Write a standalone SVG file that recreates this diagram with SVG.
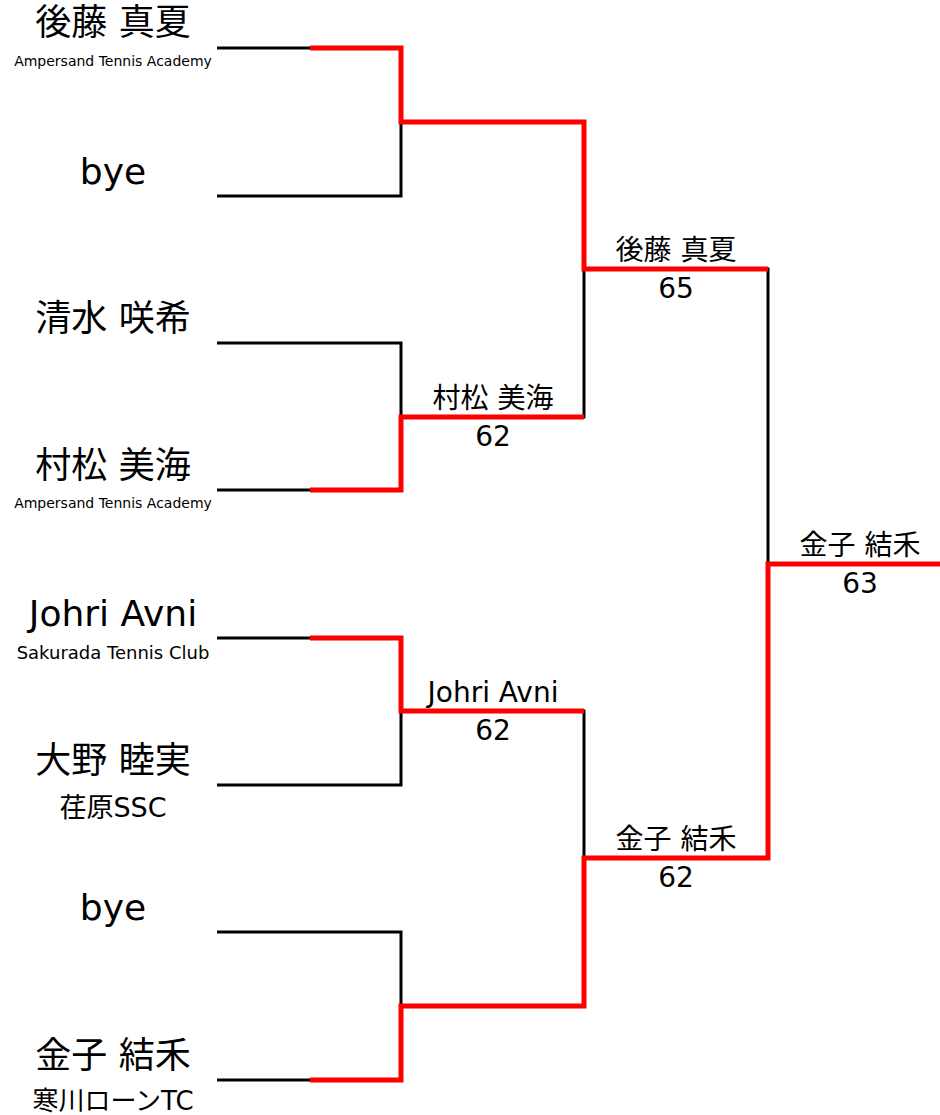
<svg xmlns="http://www.w3.org/2000/svg" width="940" height="1115" viewBox="0 0 940 1115">
<style>
text{font-family:"DejaVu Sans","Noto Sans CJK JP",sans-serif;fill:#000;text-anchor:middle}
.nm{font-size:36px}
.rl{font-size:28px}
.blk{fill:none;stroke:#000;stroke-width:3;stroke-linejoin:miter}
.red{fill:none;stroke:#ff0000;stroke-width:5;stroke-linejoin:miter}
</style>
<rect width="940" height="1115" fill="#fff"/>
<g id="connectors">
<path class="blk" d="M217,48 H401 V196 H217"/>
<path class="blk" d="M217,343 H401 V490 H217"/>
<path class="blk" d="M217,638 H401 V785 H217"/>
<path class="blk" d="M217,932 H401 V1080 H217"/>
<path class="blk" d="M401,122 H584 V417 H401"/>
<path class="blk" d="M401,711 H584 V1006 H401"/>
<path class="blk" d="M584,269 H768 V858 H584"/>
<path class="red" d="M310,48 H401 V122 H584 V269 H768"/>
<path class="red" d="M310,490 H401 V417 H584"/>
<path class="red" d="M310,638 H401 V711 H584"/>
<path class="red" d="M310,1080 H401 V1006 H584 V858 H768 V564 H945"/>
</g>
<g id="p1"><text class="nm" x="113" y="35">後藤 真夏</text><text x="113" y="66" font-size="14">Ampersand Tennis Academy</text></g>
<g id="p2"><text class="nm" x="113" y="184">bye</text></g>
<g id="p3"><text class="nm" x="113" y="331">清水 咲希</text></g>
<g id="p4"><text class="nm" x="113" y="478">村松 美海</text><text x="113" y="508" font-size="14">Ampersand Tennis Academy</text></g>
<g id="p5"><text class="nm" x="113" y="626">Johri Avni</text><text x="113" y="659" font-size="18">Sakurada Tennis Club</text></g>
<g id="p6"><text class="nm" x="113" y="773">大野 睦実</text><text x="113" y="817" font-size="27">荏原SSC</text></g>
<g id="p7"><text class="nm" x="113" y="920">bye</text></g>
<g id="p8"><text class="nm" x="113" y="1068">金子 結禾</text><text x="113" y="1110" font-size="26">寒川ローンTC</text></g>
<g id="m2"><text class="rl" x="493" y="408">村松 美海</text><text class="rl" x="493" y="446">62</text></g>
<g id="m3"><text class="rl" x="493" y="702">Johri Avni</text><text class="rl" x="493" y="740">62</text></g>
<g id="sf1"><text class="rl" x="676" y="260">後藤 真夏</text><text class="rl" x="676" y="298">65</text></g>
<g id="sf2"><text class="rl" x="676" y="849">金子 結禾</text><text class="rl" x="676" y="887">62</text></g>
<g id="final"><text class="rl" x="860" y="555">金子 結禾</text><text class="rl" x="860" y="593">63</text></g>
</svg>
